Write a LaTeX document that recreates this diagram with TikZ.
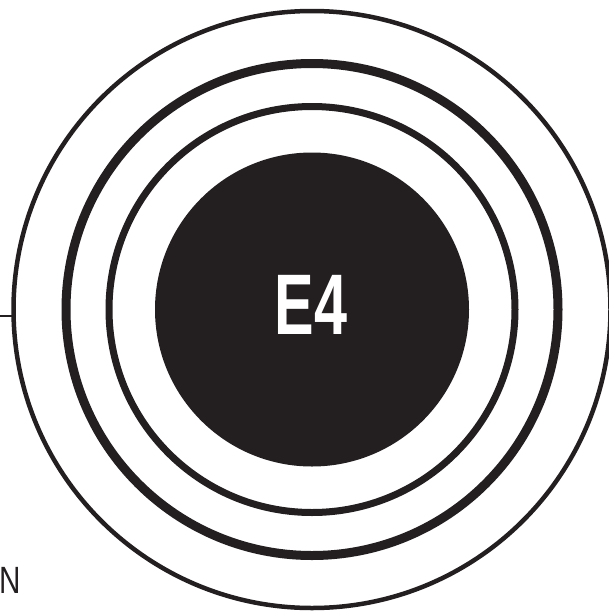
\documentclass[tikz,border=0pt]{standalone}
\usepackage{fontspec}
\setmainfont{Liberation Sans}
\usepackage{xcolor}
\definecolor{inkblack}{HTML}{231F20}
\usetikzlibrary{positioning,calc}

\begin{document}
\begin{tikzpicture}[x=1pt, y=-1pt,
    ring/.style={draw=inkblack},
    badge/.style={text=white, inner sep=0pt, font=\fontsize{86}{86}\selectfont\bfseries},
    tag/.style={text=inkblack, inner sep=0pt, font=\fontsize{38}{38}\selectfont}]
  \useasboundingbox (0, 0) rectangle (609, 611);

  % Centre of the rings
  \coordinate (mid) at (312, 309.5);

  % Rings
  \draw[ring, line width=4.5pt] (mid) circle[radius=298.5];
  \draw[ring, line width=9pt] (mid) circle[radius=246];
  \draw[ring, line width=7pt] (mid) circle[radius=203];

  % Core disk
  \fill[inkblack] (mid) circle[radius=157];
  \node[badge] (core) at (311, 305) {\scalebox{0.69}[1]{E4}};

  % Lead on the left
  \coordinate (lead) at (0, 316);
  \coordinate (leadend) at (14, 316);
  \draw[inkblack, line width=1.6pt] (lead) -- (leadend);

  % Corner label
  \node[tag] (north) at (10.5, 580.5) {\scalebox{0.78}[1]{N}};
\end{tikzpicture}
\end{document}
